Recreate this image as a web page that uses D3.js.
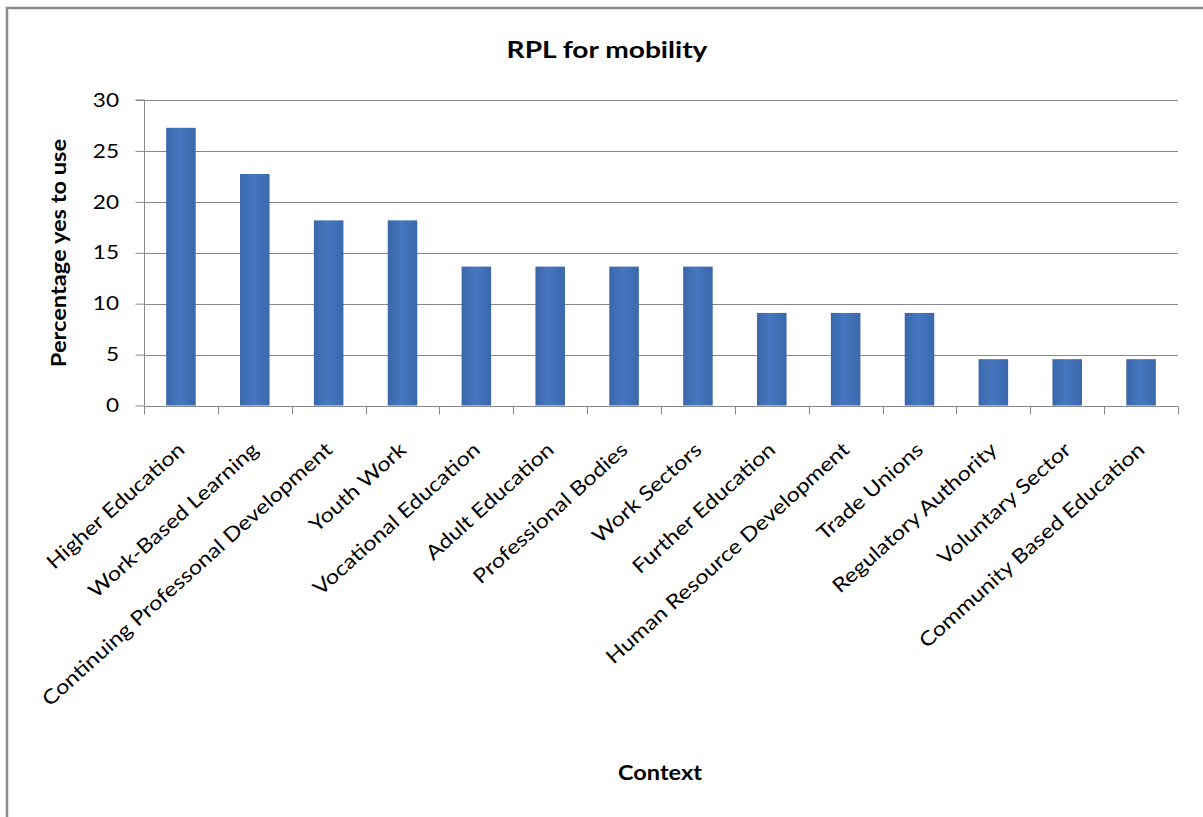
<!DOCTYPE html>
<html>
<head>
<meta charset="utf-8">
<script src="https://cdn.jsdelivr.net/npm/d3@7"></script>
<style>
html,body{margin:0;padding:0;background:#fff;}
svg{display:block;}
text{font-family:Lato,"Open Sans",sans-serif;fill:#000;}
</style>
</head>
<body>
<svg id="chart" width="1203" height="817"></svg>
<script>
const categories = ["Higher Education","Work-Based Learning","Continuing Professonal Development","Youth Work","Vocational Education","Adult Education","Professional Bodies","Work Sectors","Further Education","Human Resource Development","Trade Unions","Regulatory Authority","Voluntary Sector","Community Based Education"];
const values = [27.27,22.73,18.18,18.18,13.64,13.64,13.64,13.64,9.09,9.09,9.09,4.55,4.55,4.55];
const yTicks = [0,5,10,15,20,25,30];
const title = "RPL for mobility";
const yTitle = "Percentage yes to use";
const xTitle = "Context";

const svg = d3.select("#chart");
const W = 1203, H = 817;
const m = {left:144, right:1178, top:100, bottom:405.5};

svg.append("rect").attr("x",0).attr("y",0).attr("width",W).attr("height",H).attr("fill","#fff");
svg.append("rect").attr("x",7).attr("y",8).attr("width",W+20).attr("height",H+20)
  .attr("fill","none").attr("stroke","#8c8c8c").attr("stroke-width",2.5);

const x = d3.scaleBand().domain(categories).range([m.left,m.right]).paddingInner(0.6).paddingOuter(0.3);
const xb = d3.scaleBand().domain(categories).range([m.left,m.right]);
const y = d3.scaleLinear().domain([0,30]).range([m.bottom,m.top]);

// gridlines
svg.append("g").selectAll("line").data(yTicks.filter(d=>d>0)).join("line")
  .attr("x1",m.left).attr("x2",m.right)
  .attr("y1",d=>Math.round(y(d))+0.5).attr("y2",d=>Math.round(y(d))+0.5)
  .attr("stroke","#888").attr("stroke-width",1);

// y axis
const yAxis = d3.axisLeft(y).tickValues(yTicks).tickSize(9).tickFormat("");
const gy = svg.append("g").attr("transform",`translate(${m.left+0.5},0)`).call(yAxis);
gy.select(".domain").attr("stroke","#888").attr("d",`M-9,${m.top}H0V${m.bottom}`);
gy.selectAll(".tick line").attr("stroke","#888");
svg.append("g").selectAll("text").data(yTicks).join("text")
  .attr("transform",d=>`translate(119,${y(d)}) scale(1.22,1)`)
  .attr("text-anchor","end").attr("dy","0.36em")
  .style("font-size","18.5px").text(d=>d);

// bars
const grad = svg.append("defs").append("linearGradient").attr("id","bg").attr("x1","0").attr("x2","1");
grad.append("stop").attr("offset","0").attr("stop-color","#3a67aa");
grad.append("stop").attr("offset","0.45").attr("stop-color","#4677bf");
grad.append("stop").attr("offset","1").attr("stop-color","#3a68ad");
svg.append("g").selectAll("rect").data(values).join("rect")
  .attr("x",(d,i)=>x(categories[i]))
  .attr("width",x.bandwidth())
  .attr("y",d=>y(d))
  .attr("height",d=>m.bottom - y(d))
  .attr("fill","url(#bg)");

// x axis
const xAxis = d3.axisBottom(xb).tickSize(0).tickFormat("");
const gx = svg.append("g").attr("transform",`translate(0,${Math.round(m.bottom)+0.5})`).call(xAxis);
gx.select(".domain").attr("stroke","#888").attr("d",`M${m.left},0H${m.right}`);
const bounds = categories.map(c=>xb(c)).concat([m.right]);
gx.append("g").selectAll("line").data(bounds).join("line")
  .attr("x1",d=>Math.round(d)+0.5).attr("x2",d=>Math.round(d)+0.5)
  .attr("y1",0).attr("y2",8).attr("stroke","#888");

// category labels
svg.append("g").selectAll("text").data(categories).join("text")
  .attr("transform",d=>`translate(${xb(d)+xb.bandwidth()/2+5},${m.bottom+46}) rotate(-42) scale(1.17,1)`)
  .attr("text-anchor","end")
  .style("font-size","20px")
  .text(d=>d);

// titles
svg.append("text").attr("transform","translate(607,58) scale(1.25,1)").attr("text-anchor","middle")
  .style("font-size","22.5px").style("font-weight","bold").text(title);
svg.append("text").attr("transform",`translate(66,253) rotate(-90) scale(1.1,1)`)
  .attr("text-anchor","middle").style("font-size","21.5px").style("font-weight","bold").text(yTitle);
svg.append("text").attr("transform","translate(660,780) scale(1.12,1)").attr("text-anchor","middle")
  .style("font-size","21px").style("font-weight","bold").text(xTitle);
</script>
</body>
</html>
